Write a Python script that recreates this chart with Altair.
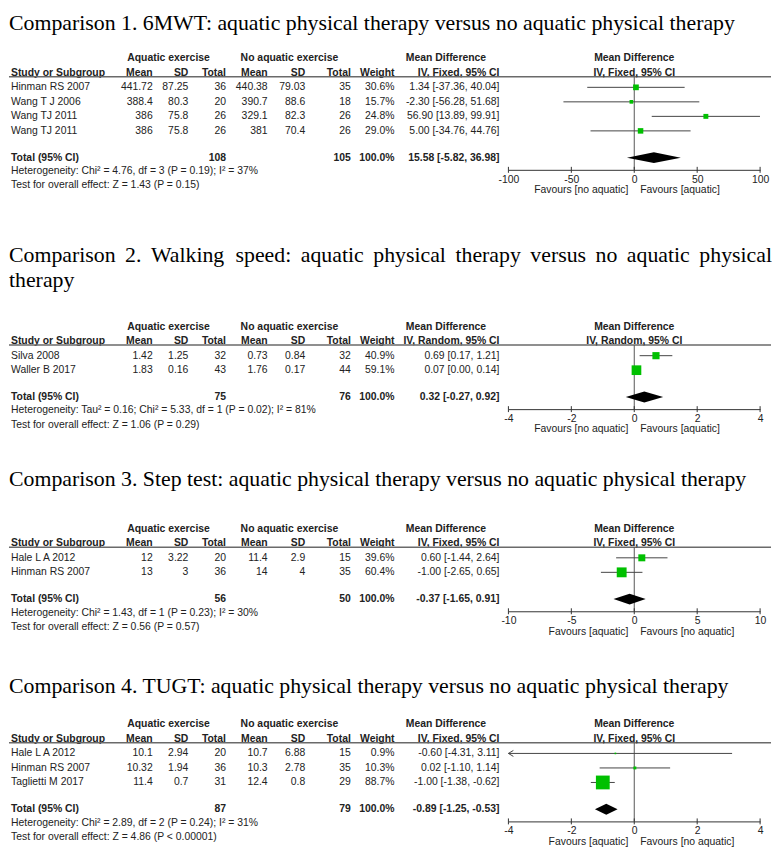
import altair as alt
import pandas as pd

SANS = "Liberation Sans"
SERIF = "Liberation Serif"
INK = "#222222"
GREEN = "#00c000"

# ---------------- Comparison 1 : 6MWT ----------------
c1_titles = ["Comparison 1. 6MWT: aquatic physical therapy versus no aquatic physical therapy"]
c1_study = ["Hinman RS 2007", "Wang T J 2006", "Wang TJ 2011", "Wang TJ  2011"]
c1_aq_mean = [441.72, 388.4, 386, 386]
c1_aq_sd = [87.25, 80.3, 75.8, 75.8]
c1_aq_n = [36, 20, 26, 26]
c1_no_mean = [440.38, 390.7, 329.1, 381]
c1_no_sd = [79.03, 88.6, 82.3, 70.4]
c1_no_n = [35, 18, 26, 26]
c1_weight = [30.6, 15.7, 24.8, 29.0]
c1_md = [1.34, -2.30, 56.90, 5.00]
c1_lo = [-37.36, -56.28, 13.89, -34.76]
c1_hi = [40.04, 51.68, 99.91, 44.76]
c1_total = [108, 105, 100.0]
c1_pooled = [15.58, -5.82, 36.98]
c1_het = "Heterogeneity: Chi² = 4.76, df = 3 (P = 0.19); I² = 37%"
c1_test = "Test for overall effect: Z = 1.43 (P = 0.15)"
c1_method = "IV, Fixed, 95% CI"
c1_domain = [-100, 100]
c1_ticks = [-100, -50, 0, 50, 100]
c1_favours = ["Favours [no aquatic]", "Favours [aquatic]"]

# ---------------- Comparison 2 : Walking speed ----------------
c2_titles = ["Comparison 2. Walking speed: aquatic physical therapy versus no aquatic physical",
             "therapy"]
c2_study = ["Silva 2008", "Waller B 2017"]
c2_aq_mean = [1.42, 1.83]
c2_aq_sd = [1.25, 0.16]
c2_aq_n = [32, 43]
c2_no_mean = [0.73, 1.76]
c2_no_sd = [0.84, 0.17]
c2_no_n = [32, 44]
c2_weight = [40.9, 59.1]
c2_md = [0.69, 0.07]
c2_lo = [0.17, 0.00]
c2_hi = [1.21, 0.14]
c2_total = [75, 76, 100.0]
c2_pooled = [0.32, -0.27, 0.92]
c2_het = "Heterogeneity: Tau² = 0.16; Chi² = 5.33, df = 1 (P = 0.02); I² = 81%"
c2_test = "Test for overall effect: Z = 1.06 (P = 0.29)"
c2_method = "IV, Random, 95% CI"
c2_domain = [-4, 4]
c2_ticks = [-4, -2, 0, 2, 4]
c2_favours = ["Favours [no aquatic]", "Favours [aquatic]"]

# ---------------- Comparison 3 : Step test ----------------
c3_titles = ["Comparison 3. Step test: aquatic physical therapy versus no aquatic physical therapy"]
c3_study = ["Hale L A 2012", "Hinman RS 2007"]
c3_aq_mean = [12, 13]
c3_aq_sd = [3.22, 3]
c3_aq_n = [20, 36]
c3_no_mean = [11.4, 14]
c3_no_sd = [2.9, 4]
c3_no_n = [15, 35]
c3_weight = [39.6, 60.4]
c3_md = [0.60, -1.00]
c3_lo = [-1.44, -2.65]
c3_hi = [2.64, 0.65]
c3_total = [56, 50, 100.0]
c3_pooled = [-0.37, -1.65, 0.91]
c3_het = "Heterogeneity: Chi² = 1.43, df = 1 (P = 0.23); I² = 30%"
c3_test = "Test for overall effect: Z = 0.56 (P = 0.57)"
c3_method = "IV, Fixed, 95% CI"
c3_domain = [-10, 10]
c3_ticks = [-10, -5, 0, 5, 10]
c3_favours = ["Favours [aquatic]", "Favours [no aquatic]"]

# ---------------- Comparison 4 : TUGT ----------------
c4_titles = ["Comparison 4. TUGT: aquatic physical therapy versus no aquatic physical therapy"]
c4_study = ["Hale L A 2012", "Hinman RS 2007", "Taglietti M 2017"]
c4_aq_mean = [10.1, 10.32, 11.4]
c4_aq_sd = [2.94, 1.94, 0.7]
c4_aq_n = [20, 36, 31]
c4_no_mean = [10.7, 10.3, 12.4]
c4_no_sd = [6.88, 2.78, 0.8]
c4_no_n = [15, 35, 29]
c4_weight = [0.9, 10.3, 88.7]
c4_md = [-0.60, 0.02, -1.00]
c4_lo = [-4.31, -1.10, -1.38]
c4_hi = [3.11, 1.14, -0.62]
c4_total = [87, 79, 100.0]
c4_pooled = [-0.89, -1.25, -0.53]
c4_het = "Heterogeneity: Chi² = 2.89, df = 2 (P = 0.24); I² = 31%"
c4_test = "Test for overall effect: Z = 4.86 (P < 0.00001)"
c4_method = "IV, Fixed, 95% CI"
c4_domain = [-4, 4]
c4_ticks = [-4, -2, 0, 2, 4]
c4_favours = ["Favours [aquatic]", "Favours [no aquatic]"]

HEAD1 = ["Aquatic exercise", "No aquatic exercise", "Mean Difference"]
HEAD2 = ["Study or Subgroup", "Mean", "SD", "Total", "Mean", "SD", "Total", "Weight"]

# ---------------- layout (pixels) ----------------
W = 770
X0, X1 = 504, 758
COLX = [2, 145, 181, 219, 261, 299, 345, 389, 495]
COLA = ["left"] + ["right"] * 8
ROW = 14.65
TITLE_SIZE = 22

# Times / Liberation Serif advance widths (1/1000 em) used to justify a title line
TIMES_W = {"C": 667, "o": 500, "m": 778, "p": 500, "a": 444, "r": 333, "i": 278,
           "s": 389, "n": 500, "2": 500, ".": 250, "W": 944, "l": 278, "k": 500,
           "g": 500, "e": 444, "d": 500, ":": 278, "q": 500, "u": 500, "t": 278,
           "c": 444, "h": 500, "y": 500, "v": 500}


def justify(line, x_left, x_right, size):
    words = line.split(" ")
    widths = [sum(TIMES_W.get(ch, 500) for ch in w) * size / 1000 for w in words]
    gap = (x_right - x_left - sum(widths)) / (len(words) - 1)
    out, x = [], x_left
    for w, wd in zip(words, widths):
        out.append((w, x))
        x += wd + gap
    return out


def fmt(v):
    return f"{v:g}"


c2_line1 = [(w, x, "left", 252.7) for w, x in justify(c2_titles[0], 0, 770, TITLE_SIZE)]

PANELS = [
    dict(top=0, bottom=215, line=65.5,
         titles=[(c1_titles[0], 0, "left", 18)],
         study=c1_study, aqm=c1_aq_mean, aqsd=c1_aq_sd, aqn=c1_aq_n,
         nom=c1_no_mean, nosd=c1_no_sd, non=c1_no_n, weight=c1_weight,
         md=c1_md, lo=c1_lo, hi=c1_hi, total=c1_total, pooled=c1_pooled,
         het=c1_het, test=c1_test, method=c1_method, domain=c1_domain,
         ticks=c1_ticks, favours=c1_favours),
    dict(top=215, bottom=448, line=336.3,
         titles=c2_line1 + [(c2_titles[1], 0, "left", 277.7)],
         study=c2_study, aqm=c2_aq_mean, aqsd=c2_aq_sd, aqn=c2_aq_n,
         nom=c2_no_mean, nosd=c2_no_sd, non=c2_no_n, weight=c2_weight,
         md=c2_md, lo=c2_lo, hi=c2_hi, total=c2_total, pooled=c2_pooled,
         het=c2_het, test=c2_test, method=c2_method, domain=c2_domain,
         ticks=c2_ticks, favours=c2_favours),
    dict(top=448, bottom=660, line=540.3,
         titles=[(c3_titles[0], 0, "left", 478.7)],
         study=c3_study, aqm=c3_aq_mean, aqsd=c3_aq_sd, aqn=c3_aq_n,
         nom=c3_no_mean, nosd=c3_no_sd, non=c3_no_n, weight=c3_weight,
         md=c3_md, lo=c3_lo, hi=c3_hi, total=c3_total, pooled=c3_pooled,
         het=c3_het, test=c3_test, method=c3_method, domain=c3_domain,
         ticks=c3_ticks, favours=c3_favours),
    dict(top=660, bottom=840, line=737.7,
         titles=[(c4_titles[0], 0, "left", 687)],
         study=c4_study, aqm=c4_aq_mean, aqsd=c4_aq_sd, aqn=c4_aq_n,
         nom=c4_no_mean, nosd=c4_no_sd, non=c4_no_n, weight=c4_weight,
         md=c4_md, lo=c4_lo, hi=c4_hi, total=c4_total, pooled=c4_pooled,
         het=c4_het, test=c4_test, method=c4_method, domain=c4_domain,
         ticks=c4_ticks, favours=c4_favours),
]


def build(p):
    top = p["top"]
    h = p["bottom"] - top
    line = p["line"] - top
    n = len(p["study"])
    rows = [line + 10.7 + i * ROW for i in range(n)]
    total_y = rows[-1] + 27
    het_y = total_y + 13.7
    test_y = total_y + 28
    axis_y = total_y + 12.3
    fav_y = axis_y + 20.5
    h1 = line - 18.5
    h2 = line - 4.2
    dmin, dmax = p["domain"]

    ys = alt.Scale(domain=[0, h], range=[0, h], nice=False, zero=False)
    xs = alt.Scale(domain=p["domain"], range=[X0, X1], nice=False, zero=False)
    ax = alt.Axis(values=p["ticks"], ticks=False, tickSize=0, grid=False,
                  domainColor="#333333", domainWidth=1, labelFont=SANS,
                  labelFontSize=10.5, labelColor=INK, labelPadding=4.5,
                  offset=-(h - axis_y), labelExpr="toString(datum.value)",
                  labelFlush=False)

    def Y(f="y"):
        return alt.Y(f"{f}:Q", scale=ys, axis=None)

    def X(f="x"):
        return alt.X(f"{f}:Q", scale=xs, axis=ax, title=None)

    def text(items, x, align, bold=False, size=10.5, font=SANS, color=INK,
             baseline="middle"):
        df = pd.DataFrame(items, columns=["t", "y"])
        return alt.Chart(df).mark_text(
            align=align, baseline=baseline, font=font, fontSize=size,
            fontWeight="bold" if bold else "normal", color=color
        ).encode(x=alt.value(x), y=Y(), text="t:N")

    layers = []
    # titles
    for t, x, a, yb in p["titles"]:
        layers.append(text([(t, yb - top)], x, a, size=TITLE_SIZE, font=SERIF,
                           color="#000000", baseline="alphabetic"))
    # header row 1
    layers.append(text([(HEAD1[0], h1)], 161, "center", bold=True))
    layers.append(text([(HEAD1[1], h1)], 283, "center", bold=True))
    layers.append(text([(HEAD1[2], h1)], 441, "center", bold=True))
    # header row 2
    for lab, x, a in zip(HEAD2 + [p["method"]], COLX, COLA):
        layers.append(text([(lab, h2)], x, a, bold=True))
    # header rule
    layers.append(alt.Chart(pd.DataFrame({"y": [line]})).mark_rule(
        color="#6a6a6a", strokeWidth=1.5).encode(
        x=alt.value(0), x2=alt.value(769), y=Y()))

    df = pd.DataFrame({
        "study": p["study"],
        "aqm": [fmt(v) for v in p["aqm"]],
        "aqsd": [fmt(v) for v in p["aqsd"]],
        "aqn": [fmt(v) for v in p["aqn"]],
        "nom": [fmt(v) for v in p["nom"]],
        "nosd": [fmt(v) for v in p["nosd"]],
        "non": [fmt(v) for v in p["non"]],
        "wt": [f"{w:.1f}%" for w in p["weight"]],
        "ci": [f"{m:.2f} [{a:.2f}, {b:.2f}]" for m, a, b in zip(p["md"], p["lo"], p["hi"])],
        "md": p["md"], "lo": p["lo"], "hi": p["hi"], "weight": p["weight"],
        "y": rows,
    })
    for col, x, a in zip(["study", "aqm", "aqsd", "aqn", "nom", "nosd", "non", "wt", "ci"],
                         COLX, COLA):
        layers.append(alt.Chart(df).mark_text(
            align=a, baseline="middle", font=SANS, fontSize=10.5, color=INK
        ).encode(x=alt.value(x), y=Y(), text=f"{col}:N"))

    # total row
    pm, pl, ph = p["pooled"]
    layers.append(text([("Total (95% CI)", total_y)], COLX[0], "left", bold=True))
    layers.append(text([(fmt(p["total"][0]), total_y)], COLX[3], "right", bold=True))
    layers.append(text([(fmt(p["total"][1]), total_y)], COLX[6], "right", bold=True))
    layers.append(text([(f"{p['total'][2]:.1f}%", total_y)], COLX[7], "right", bold=True))
    layers.append(text([(f"{pm:.2f} [{pl:.2f}, {ph:.2f}]", total_y)], COLX[8], "right", bold=True))
    layers.append(text([(p["het"], het_y)], COLX[0], "left"))
    layers.append(text([(p["test"], test_y)], COLX[0], "left"))

    # ---- forest plot ----
    layers.append(alt.Chart(pd.DataFrame({"x": [0, 0], "y": [h1, h2],
                                          "t": [HEAD1[2], p["method"]]})).mark_text(
        align="center", baseline="middle", font=SANS, fontSize=10.5,
        fontWeight="bold", color=INK).encode(x=X(), y=Y(), text="t:N"))
    layers.append(alt.Chart(pd.DataFrame({"x": [0], "y": [line], "y2": [axis_y]})).mark_rule(
        color="#555555", strokeWidth=1).encode(x=X(), y=Y(), y2="y2:Q"))
    ci = df.assign(lo_c=df["lo"].clip(lower=dmin), hi_c=df["hi"].clip(upper=dmax))
    layers.append(alt.Chart(ci).mark_rule(color="#444444", strokeWidth=1).encode(
        x=X("lo_c"), x2="hi_c:Q", y=Y()))
    arrows = ci[ci["lo"] < dmin].assign(xa=dmin)
    if len(arrows):
        layers.append(alt.Chart(arrows).mark_point(
            shape="M1,-0.6L0,0L1,0.6", filled=False, stroke="#444444",
            strokeWidth=1, size=100, opacity=1).encode(x=X("xa"), y=Y()))
    layers.append(alt.Chart(df).transform_calculate(
        box="pow(1.5 + 0.14 * datum.weight, 2)").mark_square(
        color=GREEN, opacity=1).encode(
        x=X("md"), y=Y(), size=alt.Size("box:Q", scale=None)))
    dia = pd.DataFrame({"x": [pl, pm, ph], "y": [total_y, total_y - 5.5, total_y],
                        "y2": [total_y, total_y + 5.5, total_y]})
    layers.append(alt.Chart(dia).mark_area(color="#000000", opacity=1).encode(
        x=X(), y=Y(), y2="y2:Q"))
    tk = pd.DataFrame({"x": p["ticks"]}).assign(y=axis_y - 3, y2=axis_y + 3)
    layers.append(alt.Chart(tk).mark_rule(color="#333333", strokeWidth=1).encode(
        x=X(), y=Y(), y2="y2:Q"))
    fav = pd.DataFrame({"x": [0], "y": [fav_y]})
    layers.append(alt.Chart(fav).mark_text(
        align="right", baseline="middle", dx=-6, font=SANS, fontSize=10.5, color=INK,
        text=p["favours"][0]).encode(x=X(), y=Y()))
    layers.append(alt.Chart(fav).mark_text(
        align="left", baseline="middle", dx=6, font=SANS, fontSize=10.5, color=INK,
        text=p["favours"][1]).encode(x=X(), y=Y()))

    return alt.layer(*layers).properties(width=W, height=h)


chart = alt.vconcat(*[build(p) for p in PANELS], spacing=0).properties(
    padding=0).configure_view(strokeWidth=0)

chart.save("out.html", embed_options={"renderer": "svg", "actions": False})
